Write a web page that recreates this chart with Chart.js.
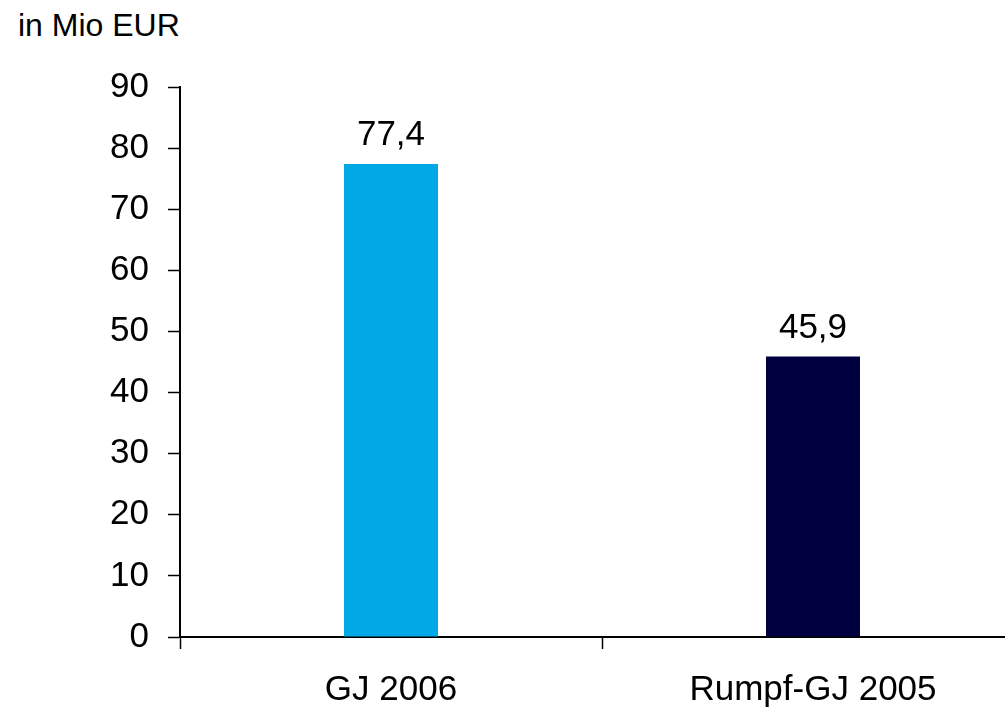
<!DOCTYPE html>
<html>
<head>
<meta charset="utf-8">
<script src="https://cdn.jsdelivr.net/npm/chart.js@4/dist/chart.umd.min.js"></script>
<style>
  html, body { margin: 0; padding: 0; background: #fff; overflow: hidden; width: 1005px; height: 713px; }
  #unit { position: absolute; left: 18px; top: 7px; font-family: "Liberation Sans", Arial, sans-serif; font-size: 32px; color: #000; line-height: 36px; }
  #wrap { position: absolute; left: 0; top: 0; width: 1040px; height: 713px; }
</style>
</head>
<body>
<div id="unit">in Mio EUR</div>
<div id="wrap"><canvas id="c" width="1040" height="713"></canvas></div>
<script>
const categories = ["GJ 2006", "Rumpf-GJ 2005"];
const values = [77.4, 45.9];
const barColors = ["#00A9E6", "#000040"];
const yTicks = [0, 10, 20, 30, 40, 50, 60, 70, 80, 90];

const FONT = "'Liberation Sans', Arial, sans-serif";

const valueLabels = {
  id: 'valueLabels',
  afterDatasetsDraw(chart) {
    const ctx = chart.ctx;
    const meta = chart.getDatasetMeta(0);
    ctx.save();
    ctx.font = "35px " + FONT;
    ctx.fillStyle = "#000";
    ctx.textAlign = "center";
    ctx.textBaseline = "alphabetic";
    meta.data.forEach((bar, i) => {
      const txt = values[i].toFixed(1).replace('.', ',');
      ctx.fillText(txt, bar.x, bar.y - 19);
    });
    ctx.restore();
  }
};

new Chart(document.getElementById('c'), {
  type: 'bar',
  data: {
    labels: categories,
    datasets: [{
      data: values,
      backgroundColor: barColors,
      borderWidth: 0,
      barPercentage: 1,
      categoryPercentage: 0.2227
    }]
  },
  options: {
    responsive: false,
    animation: false,
    devicePixelRatio: 1,
    layout: { padding: { top: 87, left: 0, right: 16, bottom: 0 } },
    plugins: { legend: { display: false }, tooltip: { enabled: false }, title: { display: false } },
    scales: {
      x: {
        offset: true,
        grid: { display: true, drawOnChartArea: false, drawTicks: true, tickLength: 12, tickColor: '#000', tickWidth: 1.5, offset: true },
        border: { display: true, color: '#000', width: 2 },
        ticks: { color: '#000', font: { family: FONT, size: 35 }, padding: 20, maxRotation: 0 },
        afterFit(scale) { scale.height = 76; }
      },
      y: {
        min: 0, max: 90,
        afterBuildTicks(scale) { scale.ticks = yTicks.map(v => ({ value: v })); },
        grid: { display: true, drawOnChartArea: false, drawTicks: true, tickLength: 12, tickColor: '#000', tickWidth: 1.5 },
        border: { display: true, color: '#000', width: 2 },
        ticks: { color: '#000', font: { family: FONT, size: 35 }, padding: 19 },
        afterFit(scale) { scale.width = 180; }
      }
    }
  },
  plugins: [valueLabels]
});
</script>
</body>
</html>
